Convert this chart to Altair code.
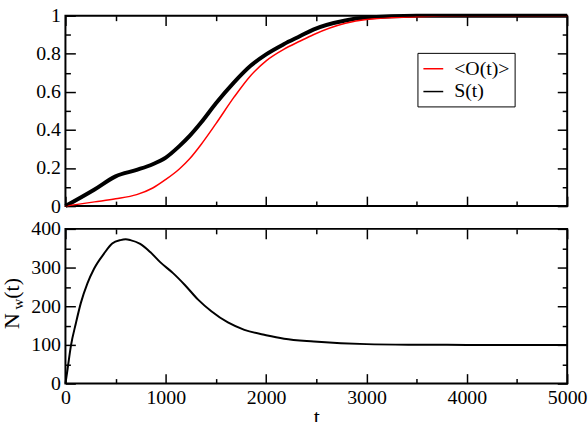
import altair as alt
import pandas as pd

# ---- data ----
t_top = [0, 290, 500, 710, 870, 1000, 1135, 1240, 1354, 1500, 1680, 1845,
         2000, 2175, 2340, 2470, 2790, 3000, 3500, 4000, 5000]
o_vals = [0, 0.022, 0.038, 0.06, 0.095, 0.14, 0.195, 0.25, 0.325, 0.433, 0.572,
          0.685, 0.763, 0.823, 0.867, 0.90, 0.96, 0.98, 0.995, 1.0, 1.0]
s_vals = [0, 0.087, 0.156, 0.19, 0.22, 0.255, 0.315, 0.37, 0.44, 0.54, 0.65,
          0.737, 0.797, 0.85, 0.893, 0.927, 0.975, 0.99, 1.0, 1.0, 1.0]

t_bot = [0, 21, 54, 104, 153, 219, 285, 384, 466, 548, 600, 647, 745, 845,
         944, 1075, 1190, 1322, 1454, 1619, 1783, 2000, 2179, 2475, 3000,
         3500, 4000, 5000]
nw_vals = [0, 37, 97, 156, 208, 259, 297, 336, 362, 371, 373, 371, 361, 340,
           314, 285, 255, 217, 187, 158, 139, 125, 116, 109, 102, 100.5, 100,
           100]

series_names = ["<O(t)>", "S(t)"]
series_colors = ["#ff0000", "#000000"]

x_major = [0, 1000, 2000, 3000, 4000, 5000]
x_minor = [500, 1500, 2500, 3500, 4500]
ytop_major = [0, 0.2, 0.4, 0.6, 0.8, 1]
ytop_minor = [0.1, 0.3, 0.5, 0.7, 0.9]
ybot_major = [0, 100, 200, 300, 400]
ybot_minor = [50, 150, 250, 350]

FONT = "Liberation Serif"
W = 506
H_TOP = 192
H_BOT = 156

df_top = pd.DataFrame({
    "t": t_top + t_top,
    "v": o_vals + s_vals,
    "series": [series_names[0]] * len(t_top) + [series_names[1]] * len(t_top),
})
df_s = pd.DataFrame({"t": t_top, "v": s_vals})
df_bot = pd.DataFrame({"t": t_bot, "v": nw_vals})

xscale = alt.Scale(domain=[0, 5000], nice=False, zero=False)
ytop_scale = alt.Scale(domain=[0, 1], nice=False)
ybot_scale = alt.Scale(domain=[0, 400], nice=False)


def tick_layer(df, yscale, xvals, yvals, size, xorient, yorient):
    return alt.Chart(df).mark_line(opacity=0).encode(
        x=alt.X("t:Q", scale=xscale, title=None,
                axis=alt.Axis(orient=xorient, offset=-size, tickSize=size,
                              values=xvals, labels=False, domain=False,
                              grid=False, tickColor="black", tickWidth=1.5)),
        y=alt.Y("v:Q", scale=yscale, title=None,
                axis=alt.Axis(orient=yorient, offset=-size, tickSize=size,
                              values=yvals, labels=False, domain=False,
                              grid=False, tickColor="black", tickWidth=1.5)),
    )


def tick_layers(df, yscale, ymaj, ymin):
    return [
        tick_layer(df, yscale, x_major, ymaj, 10, "bottom", "left"),
        tick_layer(df, yscale, x_major, ymaj, 10, "top", "right"),
        tick_layer(df, yscale, x_minor, ymin, 5, "bottom", "left"),
        tick_layer(df, yscale, x_minor, ymin, 5, "top", "right"),
    ]


label_axis_common = dict(domain=False, ticks=False, grid=False,
                         labelFont=FONT, labelFontSize=20, labelColor="black",
                         labelFlush=False, labelOverlap=False)

# ---- top panel ----
# noisy S(t) band (drawn as a thick black stroke, no legend)
s_band = alt.Chart(df_s).mark_line(interpolate="monotone", color="black",
                                   strokeWidth=4).encode(
    x=alt.X("t:Q", scale=xscale, title=None,
            axis=alt.Axis(orient="bottom", labels=False, values=x_major,
                          domain=False, ticks=False, grid=False)),
    y=alt.Y("v:Q", scale=ytop_scale, title=None,
            axis=alt.Axis(orient="left", values=ytop_major, format="~g",
                          labelPadding=5, **label_axis_common)),
    order=alt.Order("t:Q"),
)

top_lines = alt.Chart(df_top).mark_line(interpolate="monotone",
                                        strokeWidth=1.5).encode(
    x=alt.X("t:Q", scale=xscale, axis=None),
    y=alt.Y("v:Q", scale=ytop_scale, axis=None),
    color=alt.Color("series:N",
                    scale=alt.Scale(domain=series_names, range=series_colors),
                    legend=alt.Legend(orient="none", legendX=355, legendY=37.5,
                                      title=None, labelFont=FONT,
                                      labelFontSize=20, labelColor="black",
                                      symbolType="stroke", symbolSize=400,
                                      symbolStrokeWidth=1.5, labelOffset=10,
                                      rowPadding=2, padding=5,
                                      strokeColor="black")),
    order=alt.Order("t:Q"),
)

top = alt.layer(s_band, top_lines,
                *tick_layers(df_top, ytop_scale, ytop_major, ytop_minor)).resolve_axis(
    x="independent", y="independent"
).properties(width=W, height=H_TOP)

# ---- bottom panel ----
bot_line = alt.Chart(df_bot).mark_line(interpolate="monotone", color="black",
                                       strokeWidth=2).encode(
    x=alt.X("t:Q", scale=xscale, title="t",
            axis=alt.Axis(orient="bottom", values=x_major, format="d",
                          labelPadding=4, titleFont=FONT, titleFontSize=22,
                          titleFontWeight="normal", titleColor="black",
                          titlePadding=-1, **label_axis_common)),
    y=alt.Y("v:Q", scale=ybot_scale, title=None,
            axis=alt.Axis(orient="left", values=ybot_major, format="d",
                          labelPadding=5, **label_axis_common)),
)

title_df = pd.DataFrame({"a": [0]})
nw_N = alt.Chart(title_df).mark_text(text="N", angle=270, font=FONT,
                                     fontSize=22, align="center",
                                     baseline="alphabetic", color="black").encode(
    x=alt.value(-47), y=alt.value(93))
nw_w = alt.Chart(title_df).mark_text(text="w", angle=270, font=FONT,
                                     fontSize=15, align="center",
                                     baseline="alphabetic", color="black").encode(
    x=alt.value(-43), y=alt.value(76))
nw_t = alt.Chart(title_df).mark_text(text="(t)", angle=270, font=FONT,
                                     fontSize=22, align="center",
                                     baseline="alphabetic", color="black").encode(
    x=alt.value(-47), y=alt.value(60))

bottom = alt.layer(bot_line, *tick_layers(df_bot, ybot_scale, ybot_major, ybot_minor),
                   nw_N, nw_w, nw_t).resolve_axis(
    x="independent", y="independent"
).properties(width=W, height=H_BOT)

chart = alt.vconcat(top, bottom, spacing=23, bounds="flush").properties(
    padding={"left": 0, "top": 3, "right": 0, "bottom": 0},
).configure(font=FONT, background="white").configure_view(
    stroke="black", strokeWidth=2
)

chart.save("out.html", embed_options={"renderer": "svg", "actions": False})
